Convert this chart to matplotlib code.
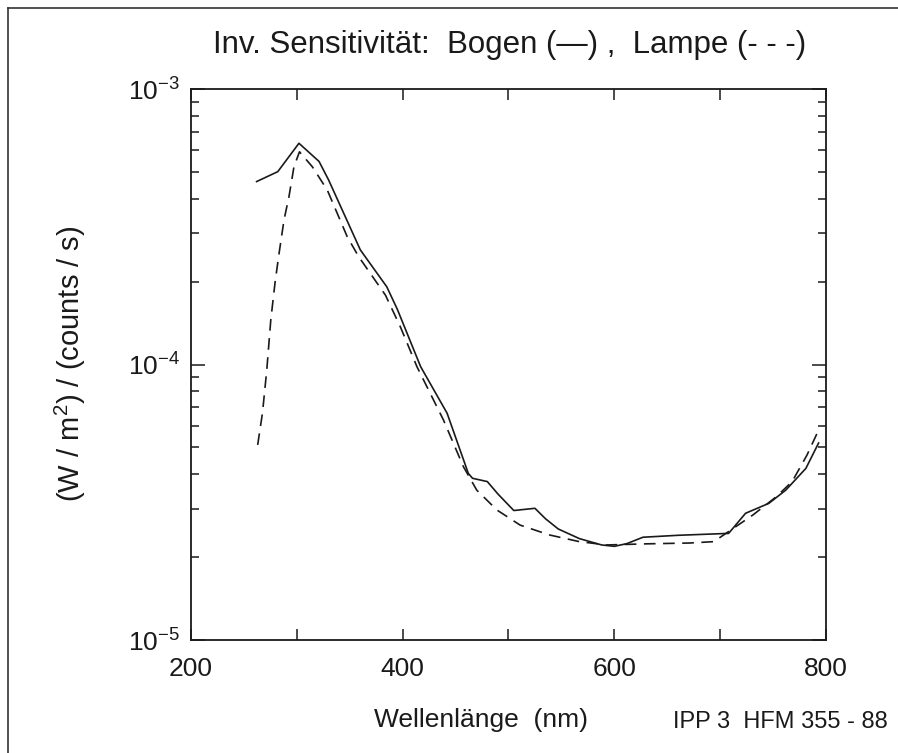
import numpy as np
import matplotlib
matplotlib.use("Agg")
import matplotlib.pyplot as plt
from matplotlib.ticker import LogLocator, NullFormatter, FixedLocator
from matplotlib.lines import Line2D

plt.rcParams['font.family'] = ['Liberation Sans', 'DejaVu Sans']
plt.rcParams['mathtext.fontset'] = 'custom'
plt.rcParams['mathtext.rm'] = 'Liberation Sans'
plt.rcParams['mathtext.it'] = 'Liberation Sans'

# Bogen (solid), wavelength in nm, log10 of inverse sensitivity
bogen_nm = [262, 282, 302, 321, 330, 360, 385, 395, 417, 442, 462, 466, 480, 490,
            505, 525, 535, 547, 567, 588, 600, 612, 627, 660, 708, 724, 746, 762,
            781, 793]
bogen_log = [-3.336, -3.300, -3.197, -3.263, -3.330, -3.584, -3.718, -3.800, -4.008,
             -4.177, -4.395, -4.413, -4.425, -4.470, -4.530, -4.522, -4.560, -4.597,
             -4.632, -4.655, -4.660, -4.650, -4.627, -4.620, -4.613, -4.540, -4.504,
             -4.456, -4.377, -4.285]

# Lampe (dashed)
lampe_nm = [263, 267.5, 271.6, 275.4, 279.5, 283.2, 287.9, 292.6, 297.3, 302.5, 314.6,
            328.8, 347.6, 358.5, 383.7, 397.8, 413.5, 438.5, 457.4, 470, 489, 511, 539,
            567, 593, 630, 671, 694, 731, 753, 768, 782, 793]
lampe_log = [-4.292, -4.177, -4.020, -3.838, -3.700, -3.597, -3.475, -3.390, -3.282,
             -3.228, -3.282, -3.367, -3.536, -3.609, -3.748, -3.863, -4.008, -4.201,
             -4.371, -4.456, -4.528, -4.583, -4.619, -4.643, -4.655, -4.651, -4.648,
             -4.643, -4.546, -4.480, -4.425, -4.329, -4.238]

bogen_y = 10.0 ** np.array(bogen_log)
lampe_y = 10.0 ** np.array(lampe_log)

W, H = 898, 753
fig = plt.figure(figsize=(W / 100, H / 100), dpi=100)
ax = fig.add_axes([191 / W, 1 - 640 / H, 635 / W, 551 / H])

ink = '#1a1a1a'
ax.plot(bogen_nm, bogen_y, '-', color=ink, lw=1.2)
ax.plot(lampe_nm, lampe_y, '--', color=ink, lw=1.2, dashes=(7, 4.5))

ax.set_yscale('log')
ax.set_xlim(200, 800)
ax.set_ylim(1e-5, 1e-3)
ax.xaxis.set_major_locator(FixedLocator([200, 300, 400, 500, 600, 700, 800]))
ax.set_xticklabels(['200', '', '400', '', '600', '', '800'])
ax.yaxis.set_major_locator(LogLocator(base=10, numticks=10))
ax.yaxis.set_minor_locator(LogLocator(base=10, subs=np.arange(2, 10), numticks=20))
ax.yaxis.set_minor_formatter(NullFormatter())

ax.tick_params(axis='both', which='both', direction='in', top=True, right=True,
               colors=ink, labelsize=19, width=1.1)
ax.tick_params(axis='x', which='major', length=8, pad=12)
ax.tick_params(axis='y', which='major', length=10, pad=8)
ax.tick_params(axis='y', which='minor', length=6)
for s in ax.spines.values():
    s.set_linewidth(1.3)
    s.set_color(ink)

fig.text(510 / W, 1 - 45 / H, 'Inv. Sensitivität:  Bogen (—) ,  Lampe (- - -)',
         ha='center', va='center', fontsize=22.5, color=ink)
fig.text(481 / W, 1 - 720 / H, 'Wellenlänge  (nm)', ha='center', va='center',
         fontsize=19, color=ink)
fig.text(888 / W, 1 - 722 / H, 'IPP 3  HFM 355 - 88', ha='right', va='center',
         fontsize=17, color=ink)
fig.text(70 / W, 1 - 364 / H, '(W / m$^2$) / (counts / s)', ha='center',
         va='center', rotation=90, fontsize=21, color=ink)

# page border from the scan
fig.add_artist(Line2D([8 / W, 8 / W], [0, 1 - 8 / H], color='#333333', lw=1.2))
fig.add_artist(Line2D([8 / W, 1], [1 - 8 / H, 1 - 8 / H], color='#333333', lw=1.2))

fig.savefig('out.png', dpi=100)
